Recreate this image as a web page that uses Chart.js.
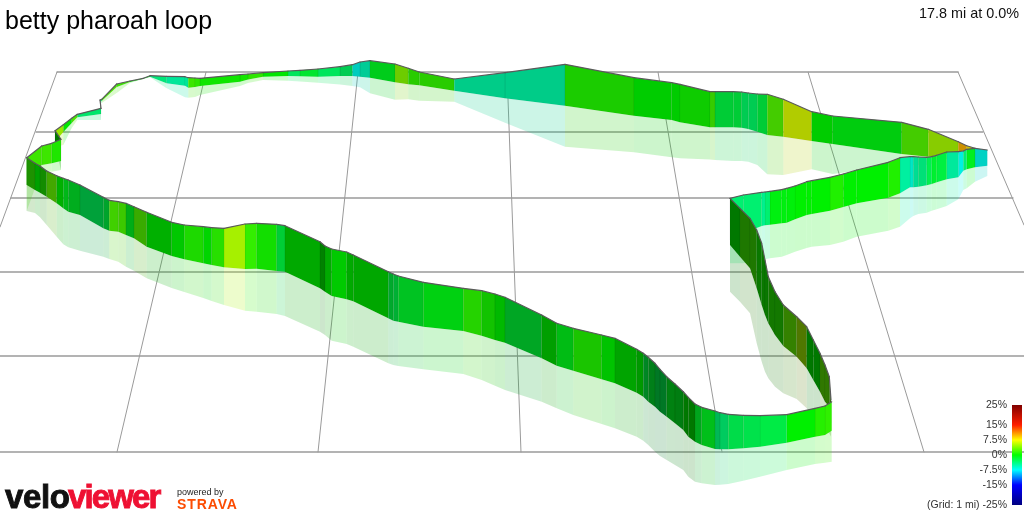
<!DOCTYPE html>
<html>
<head>
<meta charset="utf-8">
<title>betty pharoah loop</title>
<script src="https://cdn.jsdelivr.net/npm/chart.js@4"></script>
<style>
    html, body { margin: 0; padding: 0; background: #fff; }
    #wrap { position: relative; width: 1024px; height: 512px; overflow: hidden; font-family: "Liberation Sans", Arial, sans-serif; }
    #wrap div { position: absolute; white-space: nowrap; line-height: 1; }
    #title { left: 5px; top: 8px; font-size: 25px; color: #000; }
    #info { right: 5px; top: 6px; font-size: 14.4px; color: #111; }
    #velo, #viewer { top: 480px; font-size: 33px; font-weight: bold; -webkit-text-stroke: 0.9px currentColor; }
    #velo { left: 5px; color: #111; letter-spacing: -0.4px; }
    #viewer { left: 68px; color: #ee1133; letter-spacing: -1.9px; }
    #powered { left: 177px; top: 488px; font-size: 9px; color: #222; }
    #strava { left: 177px; top: 497px; font-size: 14px; font-weight: bold; color: #fc4c02; letter-spacing: 0.9px; }
    .tick { right: 17px; font-size: 10.5px; color: #333; }
</style>
</head>
<body>
<div id="wrap">
    <canvas id="route" width="1024" height="512"></canvas>
    <div id="title">betty pharoah loop</div>
    <div id="info">17.8 mi at 0.0%</div>
    <div id="velo">velo</div>
    <div id="viewer">viewer</div>
    <div id="powered">powered by</div>
    <div id="strava">STRAVA</div>
</div>
<script>
// route, in picture units, one line per stretch of road
const routeX = [
    730,743.3,761.7,765,770,781.7,786.7,795,806.7,811.7,830,843.3,856.7,888.3,900,910,913.3,918.3,926.7,931.7,936.7,946.7,958.3,963.3,966.7,975,987.3,
    975,966.7,958.3,928.3,901.7,832.7,811.7,783.3,767.3,757.3,748.3,741.7,733.3,715,710,680,
    671.7,634,565,505,454.3,419.3,408.3,395,370,360,352.3,340,
    318,300,288,263,248,240,200,195,188.3,185,166.7,150,143.3,
    130,116.7,101.7,100,101,77.3,71.7,63.3,55,61,51.7,41.7,
    26.7,35,40,46.7,56.7,63.3,68.3,80,103.3,109.3,118.3,126,134,146.7,171.7,184.3,203.3,211.7,224,
    245,256.7,276.7,285,320,325,331.7,346.7,353.3,388.3,393.3,398.3,423.3,463.3,481.7,495,505,541.7,556.7,
    573.3,601.7,615,636.7,643.3,648.3,655,660,666.7,675,683.3,688.3,695,701.7,715,720,728.3,743.3,760,786.7,815,825,831.7,
    831,829.3,825,820,813.3,806.7,796.7,783.3,775,768.3,765,761.7,756.7,750,740,730
];
const wallTop = [
    198.3,195,192.3,192,191.3,189.7,188.3,186,181.7,180.7,177.3,174,170,162.3,157.7,156.7,156.7,157,157.3,156.7,155.3,152,151.7,151,149.3,148.3,150,
    148.3,145.7,141.7,129.3,122.3,116,111.7,99.3,94.3,94,93,92,91.7,91.7,91.7,84.3,
    82.7,77.7,64.3,72.7,79,72,68.3,64,60.7,62,64.7,66.7,
    69,70.3,71,72.7,74,74.7,78.3,78,77.7,76.7,76.3,75.7,78.3,
    81,84,99.3,100,108.3,114.3,118.3,124.7,130.7,139.3,143.3,146,
    157.7,163.3,166,171,175.7,178.3,180,185,197.3,200.3,201.7,203.3,206.7,212.3,222.3,225,226.7,227.7,228.3,
    224,223.3,224.3,225.7,241.7,246,249,252,255,271.7,274,276,282.3,288.3,290.7,294,297.3,315,323.3,
    328.3,335,338.3,349.3,353.3,357.3,363.3,369.3,376.7,384,391.7,397.3,404,407.3,411,412.7,414.3,415.3,415.7,414.7,408.3,406,401.7,
    400,376.7,365,353.3,340,326.7,316.7,305,291.7,276.7,260,243.3,230,218.3,208.3,198.3
];
const wallBase = [
    240,233.3,226,225.3,224.7,223.3,222.7,219.3,215,214,210.7,207,203.3,197.7,193.3,187.3,187.3,186.7,185.3,184,182.3,179.3,177.3,170.7,169.3,167.3,165.7,
    148.3,150,151.7,156.7,154,144,141,136.7,135,131.7,129,127.7,127.3,127.3,127.3,122.3,
    120,115.7,105.7,98.3,90.7,85.3,84.3,82.3,77.7,76.7,76,76,
    76.7,76.3,76,76.7,79.5,81.7,86,87,87.7,85.7,83.3,76.7,78.8,
    82,87,101,101.7,114,117.3,123,132,141.7,161,163.3,165,
    185,190,192.7,196.7,203.3,208.3,211.7,215,228.3,230.7,231.7,235,238.3,246.7,256,259.3,263.3,265,267.3,
    269,268.7,271,271.7,288.3,291.7,296,299.3,301.3,318.3,320.7,321.7,326.7,331,335.7,340,342.7,358.3,365.7,
    370.7,379.3,383.3,392.7,396.7,401.7,406.7,411.7,416.7,423.3,430,436.7,441.7,445,449,449.3,449.3,448.3,446.7,442.7,436.7,435,430.7,
    423.3,406.7,401.7,391.7,380,368.3,356.7,346,335,323.3,315,305,288.3,268.3,256.7,245
];
const shadowBase = [
    263.3,263.3,260,259.3,258.3,256.7,255,251.7,248,246.7,245,241.7,236.7,230.7,226.7,218.3,216,214,212.7,210.7,209.3,206,199.3,190,188.3,181.7,176,
    150,152,155,165,165,174,169.3,175,174.3,165,161.7,161,161,160,159.5,158.3,
    157.3,152.3,146.7,122.7,101.7,100.7,99.3,99.7,93.3,87.3,86,84.5,
    82.7,81.5,80.7,80,83,86,95,97,97.7,97.3,88.3,77.3,79,
    83,93,103,104,120,120,128,145,146.7,170,171.7,170,
    211,213,217.3,225,236.7,244.3,247.3,250.7,256.7,259,261.7,266.7,270.7,278.3,288,292,298,301,305,
    310.7,311.7,314,316,331.7,335,340.7,344,346.7,363.3,365,366,369.3,374,380,385.7,390,401.7,408.3,
    415,424,428.3,436.7,440.7,445,451.7,456,460,465,470,476.7,481.7,483.3,485,484.7,484,480.7,476.7,470,464,462.7,461.7,
    436.7,433.3,430,425,418.3,408.3,399,393.3,386.7,378.3,371.7,361.7,343.3,313.3,301.7,291.7
];
// % gradient of the road from each point to the next, null where the road breaks
const routeGrade = [
    -3.5,-3.5,-4.5,-3.5,-0.5,-0.5,-0.3,0,0,0,1,0,0,1,-5,-6.5,-5,-4,-2.5,-1.5,-2,-5,-7,-3.5,-1,-7,null,
    8,10,5,2.5,-0.5,0,6.5,2.5,-2,-3,-3,-2,-2,2,0.5,0,
    0,1,-5,-5,1.5,1.5,4,-1,-5.5,-7,-3,-3,
    -1.5,-3,0,1.5,0.7,0.5,1.5,2,-5,-5,-4,-1,0,
    2,2.5,-3.5,-1,-3.5,2.5,0,5,0,1,2,2,
    1.5,0,1,3,0,-1,-1.3,-2.7,-2,2.3,2.2,-1,2.5,0,0,1,0,1.3,5.2,
    1.6,0.6,-2,0,0,0,0,0,0,-2,-2.2,-1.3,-0.6,1.3,0.7,0,-1.6,0,-0.8,
    1,0,0,0,-2,-1.5,-2.3,-2.3,-1,-1,0,0,-1.3,-1,-3.5,-3.5,-2.5,-2.5,-2.2,0,1.2,1.5,null,
    3,3,3,0,0,5,3,1.2,1.2,0.6,0.6,0.6,1.9,1.9,0,null
];

// ground grid
const gridRowY = [72,132,198,272,356,452];
const gridRowLeft = [57,36,11,0,0,0];
const gridRowRight = [958,983,1013,1024,1024,1024];
const gridColTopX = [57,206,358,507,658,808,958];
const gridColEndX = [0,117,318,521,722,924,1024];
const gridColEndY = [227,452,452,452,452,452,225];

// colour key
const keyGrades = [25,15,7.5,0,-7.5,-15,-25];
const keyColors = ['#800000','#ff1e00','#ffff00','#00ff00','#00ffff','#0000ff','#000080'];
const keyLabels = ['25%','15%','7.5%','0%','-7.5%','-15%','(Grid: 1 mi) -25%'];

function gradeRgb(grade) {
    for (let k = 0; k < keyGrades.length - 1; k++) {
        if (grade <= keyGrades[k] && grade >= keyGrades[k + 1]) {
            const t = (keyGrades[k] - grade) / (keyGrades[k] - keyGrades[k + 1]);
            const a = parseInt(keyColors[k].slice(1), 16);
            const b = parseInt(keyColors[k + 1].slice(1), 16);
            return [16, 8, 0].map(s => ((a >> s) & 255) * (1 - t) + ((b >> s) & 255) * t);
        }
    }
    return [0, 255, 0];
}

// walls get darker the more they run across the view
function wallShade(i) {
    const dx = routeX[i + 1] - routeX[i];
    const dy = wallTop[i + 1] - wallTop[i];
    const a = Math.atan(dy / dx) * 180 / Math.PI;
    let s;
    if (a <= 0) s = Math.min(0.94, 0.9 - a * 0.01);
    else if (a <= 26) s = 0.9 - a * 0.0096;
    else s = Math.max(0.47, 0.65 - (a - 26) * 0.0095);
    if (dx < 0 && a < 30) s = routeX[i] > 345 ? 0.8 : 0.9;
    return s;
}

const ctx = document.getElementById('route').getContext('2d');
const drawList = [];

function addLine(points, color, width) {
    drawList.push({ data: points, borderColor: color, borderWidth: width, pointRadius: 0, fill: false, borderCapStyle: 'round' });
}
function addQuad(i, upper, lower, color, edge) {
    drawList.push({
        data: [
            { x: routeX[i], y: upper[i] },
            { x: routeX[i], y: lower[i] },
            { x: routeX[i + 1], y: lower[i + 1] },
            { x: routeX[i + 1], y: upper[i + 1] }
        ],
        backgroundColor: color,
        borderColor: edge,
        borderWidth: 0.5,
        pointRadius: 0,
        fill: 'shape'
    });
}

gridRowY.forEach((y, k) => addLine([{ x: gridRowLeft[k], y: y }, { x: gridRowRight[k], y: y }], '#9a9a9a', 1.3));
gridColTopX.forEach((x, k) => addLine([{ x: x, y: gridRowY[0] }, { x: gridColEndX[k], y: gridColEndY[k] }], '#9a9a9a', 1));

const segments = [];
routeGrade.forEach((g, i) => { if (g !== null) segments.push(i); });

segments.forEach(i => {
    const c = gradeRgb(routeGrade[i]).map(v => Math.round(v * wallShade(i)));
    addQuad(i, wallBase, shadowBase, `rgba(${c[0]},${c[1]},${c[2]},0.2)`, 'rgba(0,0,0,0)');
});

// far walls first so that near ones cover them
segments.slice().sort((a, b) => (wallTop[a] + wallTop[a + 1]) - (wallTop[b] + wallTop[b + 1])).forEach(i => {
    const c = gradeRgb(routeGrade[i]).map(v => Math.round(v * wallShade(i)));
    addQuad(i, wallTop, wallBase, `rgb(${c[0]},${c[1]},${c[2]})`, 'rgba(0,0,0,0.06)');
    addLine([{ x: routeX[i], y: wallTop[i] }, { x: routeX[i + 1], y: wallTop[i + 1] }], '#5a5a5a', 1.2);
});

// colour key bar on its own grade axis
const keyFill = ctx.createLinearGradient(0, 405, 0, 505);
keyGrades.forEach((g, k) => keyFill.addColorStop((25 - g) / 50, keyColors[k]));
drawList.push({
    data: [{ x: 1017, y: 25 }, { x: 1017, y: -25 }],
    yAxisID: 'yKey',
    borderColor: keyFill,
    borderWidth: 10,
    borderCapStyle: 'butt',
    pointRadius: 0,
    fill: false
});

// chart draws lower order on top
drawList.forEach((ds, k) => { ds.order = -k; ds.tension = 0; });

const chart = new Chart(ctx, {
    type: 'line',
    data: { datasets: drawList },
    options: {
        responsive: false,
        animation: false,
        layout: { padding: 0 },
        plugins: {
            legend: { display: false },
            tooltip: { enabled: false }
        },
        events: [],
        scales: {
            x: { type: 'linear', min: 0, max: 1024, display: false },
            y: { type: 'linear', min: 0, max: 512, reverse: true, display: false },
            yKey: { type: 'linear', min: -28.5, max: 227.5, display: false }
        }
    }
});

// key labels sit where the grade axis puts them
const wrap = document.getElementById('wrap');
keyGrades.forEach((g, k) => {
    const el = document.createElement('div');
    el.className = 'tick';
    el.textContent = keyLabels[k];
    el.style.top = (chart.scales.yKey.getPixelForValue(g) - 6) + 'px';
    wrap.appendChild(el);
});
</script>
</body>
</html>
